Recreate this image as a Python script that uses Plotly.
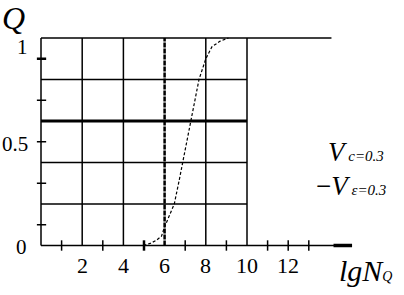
import plotly.graph_objects as go

# data
x_grid = [0, 2, 4, 6, 8, 10]
y_grid = [0, 0.2, 0.4, 0.6, 0.8, 1.0]
x_minor = [1, 3, 5, 7, 9, 11, 12, 13]
y_minor = [0.1, 0.3, 0.5, 0.7, 0.9]
x_labels = [2, 4, 6, 8, 10, 12]
y_labels = ["0", "0.5", "1"]
y_label_vals = [0, 0.5, 1]
curve_x = [4.97, 5.3, 5.6, 5.85, 6.0, 6.2, 6.47, 6.7, 6.88, 7.15, 7.27, 7.5, 7.67, 8.0, 8.3, 8.7, 9.1]
curve_q = [0, 0.01, 0.025, 0.045, 0.09, 0.14, 0.2, 0.31, 0.4, 0.53, 0.6, 0.72, 0.8, 0.9, 0.958, 0.985, 1.0]
marked_x = 6
thick_y = 0.6

W, H = 404, 295
x0px, pxu = 41, 20.6
y0px, pyu = 245.5, 207.5
xr = [-x0px / pxu, (W - x0px) / pxu]
yr = [-(H - y0px) / pyu, y0px / pyu]

SERIF = "Liberation Serif, Times New Roman, serif"
fig = go.Figure()

fig.add_trace(go.Scatter(x=curve_x, y=curve_q, mode="lines",
                         line=dict(color="black", width=1.2, dash="3px,2px"),
                         hoverinfo="skip", showlegend=False))

shapes = []
L = dict(color="black", width=1.5)
for gx in x_grid:
    if gx == marked_x:
        continue
    shapes.append(dict(type="line", x0=gx, x1=gx, y0=0, y1=1, line=L))
shapes.append(dict(type="line", x0=marked_x, x1=marked_x, y0=0, y1=1,
                   line=dict(color="black", width=2.5, dash="5px,1px")))
for gy in y_grid:
    if gy == 0:
        shapes.append(dict(type="line", x0=0, x1=14.6, y0=0, y1=0, line=L))
    elif gy == 1.0:
        shapes.append(dict(type="line", x0=0, x1=14.1, y0=1, y1=1, line=L))
    elif gy == thick_y:
        shapes.append(dict(type="line", x0=0, x1=10, y0=gy, y1=gy, line=dict(color="black", width=3)))
    else:
        shapes.append(dict(type="line", x0=0, x1=10, y0=gy, y1=gy, line=L))
# arrow end
shapes.append(dict(type="line", x0=14.2, x1=15.1, y0=0, y1=0, line=dict(color="black", width=3.5)))
# minor ticks
for mx in x_minor:
    w = 2.5 if mx == 5 else 1.5
    shapes.append(dict(type="line", x0=mx, x1=mx, y0=-0.025, y1=0.025, line=dict(color="black", width=w)))
for my in y_minor:
    w = 2.5 if my == 0.9 else 1.5
    shapes.append(dict(type="line", x0=-0.2, x1=0.25, y0=my, y1=my, line=dict(color="black", width=w)))

C = dict(xanchor="center", yanchor="middle", showarrow=False)
ann = []
for lx in x_labels:
    ann.append(dict(x=lx, y=-0.095, xref="x", yref="y", text=str(lx),
                    font=dict(family=SERIF, size=22, color="black"), **C))
y_label_px = [21.5, 15, 22]
y_label_dy = [-0.005, -0.01, -0.045]
for t, v, xp, dy in zip(y_labels, y_label_vals, y_label_px, y_label_dy):
    ann.append(dict(x=xp / W, y=v + dy, xref="paper", yref="y", text=t,
                    font=dict(family=SERIF, size=21, color="black"), **C))

def px(x, y):
    return x / W, 1 - y / H

ax, ay = px(13, 18)
ann.append(dict(x=ax, y=ay, xref="paper", yref="paper", text="<i>Q</i>",
                font=dict(family=SERIF, size=32, color="black"), **C))
ax, ay = px(365, 270)
ann.append(dict(x=ax, y=ay, xref="paper", yref="paper",
                text="<i>lgN</i><span style='font-size:14px'><i>Q</i></span>",
                font=dict(family=SERIF, size=30, color="black"), **C))
ax, ay = px(356, 152)
ann.append(dict(x=ax, y=ay, xref="paper", yref="paper",
                text="<i>V</i><span style='font-size:15px'><i> c=0.3</i></span>",
                font=dict(family=SERIF, size=27, color="black"), **C))
ax, ay = px(351, 186)
ann.append(dict(x=ax, y=ay, xref="paper", yref="paper",
                text="\u2212<i>V</i><span style='font-size:15px'><i> \u03b5=0.3</i></span>",
                font=dict(family=SERIF, size=27, color="black"), **C))

fig.update_layout(width=W, height=H, autosize=False, margin=dict(l=0, r=0, t=0, b=0),
                  paper_bgcolor="white", plot_bgcolor="white",
                  xaxis=dict(range=xr, visible=False, fixedrange=True),
                  yaxis=dict(range=yr, visible=False, fixedrange=True),
                  shapes=shapes, annotations=ann, showlegend=False)
fig.write_html("out.html", config={"displayModeBar": False},
               post_script="document.body.style.margin='0';document.body.style.overflow='hidden';")
